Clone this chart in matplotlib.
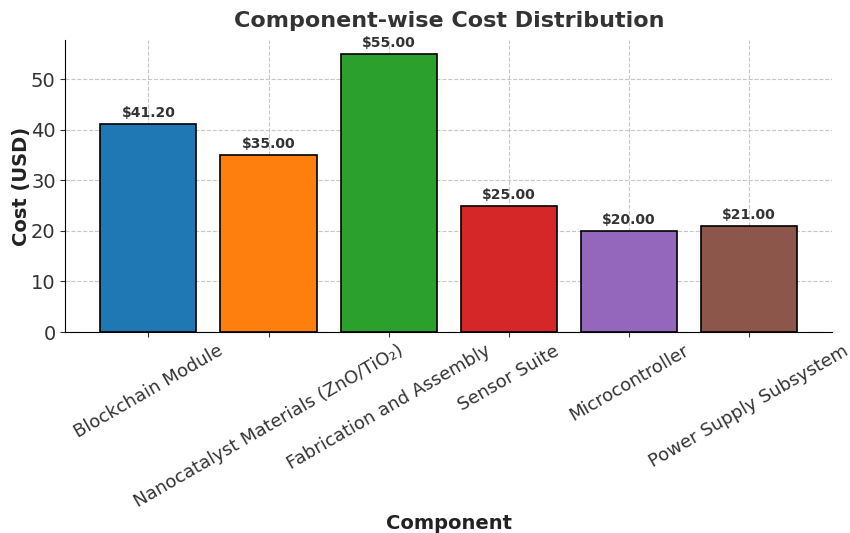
import matplotlib
matplotlib.use("Agg")
import matplotlib.pyplot as plt

components = [
    "Blockchain Module",
    "Nanocatalyst Materials (ZnO/TiO\u2082)",
    "Fabrication and Assembly",
    "Sensor Suite",
    "Microcontroller",
    "Power Supply Subsystem",
]
costs = [41.20, 35.00, 55.00, 25.00, 20.00, 21.00]
colors = ["#1f77b4", "#ff7f0e", "#2ca02c", "#d62728", "#9467bd", "#8c564b"]

text_color = "#333333"
plt.rcParams["font.family"] = ["DejaVu Sans"]

fig, ax = plt.subplots(figsize=(8.5, 5.33), dpi=100)
fig.subplots_adjust(left=0.077, right=0.979, top=0.925, bottom=0.377)

bars = ax.bar(components, costs, color=colors, edgecolor="black", linewidth=1.2, zorder=2)
for bar, val in zip(bars, costs):
    ax.text(bar.get_x() + bar.get_width() / 2, bar.get_height() + 0.8,
            f"${val:.2f}", ha="center", va="bottom", fontsize=10,
            fontweight="bold", color=text_color)

ax.set_title("Component-wise Cost Distribution", fontsize=16, fontweight="bold",
             color=text_color, pad=9)
ax.set_xlabel("Component", fontsize=14, fontweight="bold", color="#222222", labelpad=2)
ax.set_ylabel("Cost (USD)", fontsize=14, fontweight="bold", color="#222222", labelpad=0)
ax.tick_params(axis="y", labelsize=14, colors=text_color)
ax.tick_params(axis="x", labelsize=13, colors=text_color)
plt.setp(ax.get_xticklabels(), rotation=30, ha="center")
ax.grid(True, linestyle="--", alpha=0.7, zorder=0)
for side in ("top", "right"):
    ax.spines[side].set_visible(False)

fig.savefig("out.png", dpi=100)
